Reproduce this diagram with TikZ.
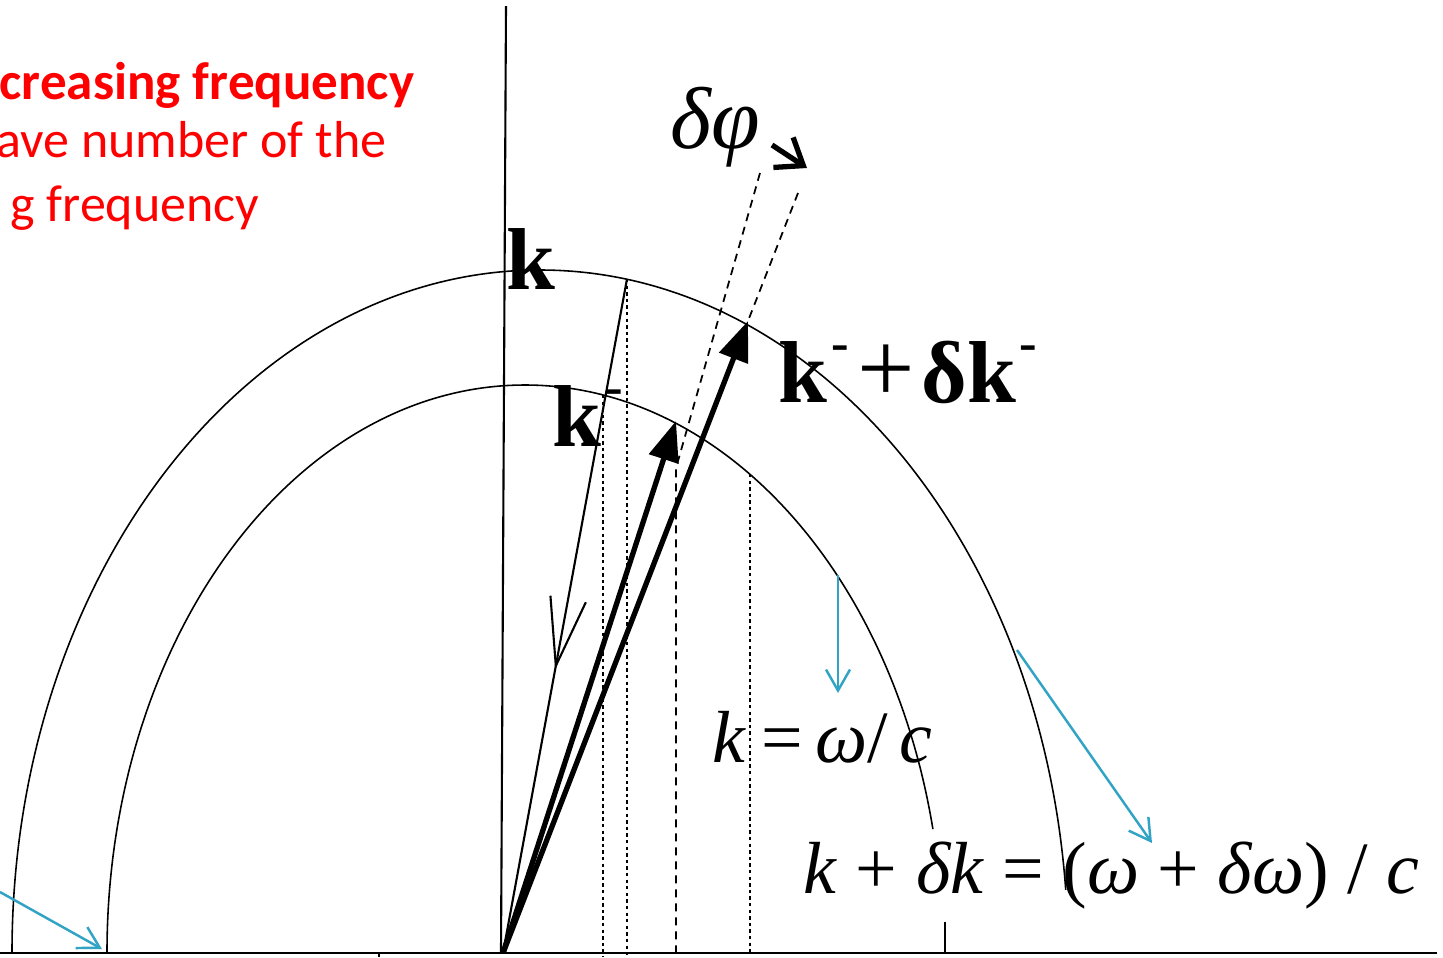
\documentclass[tikz,border=0pt]{standalone}
\usepackage{fontspec}
\setmainfont{Liberation Serif}
\newfontfamily\calibri{Carlito}
\usepackage{tikz}
\usetikzlibrary{arrows.meta,decorations.markings,calc}
\definecolor{skyline}{HTML}{31A3C4}
\definecolor{signal}{HTML}{FF0000}
\newcommand{\kminus}{\textbf{k}\kern0.04em\raisebox{0.47em}{\fontsize{15}{15}\selectfont\textbf{-}}}
\newcommand{\bigplus}{{\fontsize{29}{30}\selectfont +}}

\begin{document}
\begin{tikzpicture}[
    vec/.style={inner sep=0pt, font=\fontsize{25}{30}\selectfont},
    eqn/.style={inner sep=0pt, font=\fontsize{21}{25}\selectfont},
    note/.style={inner sep=0pt, text=signal, font=\calibri\fontsize{14.8}{18}\selectfont},
    guide/.style={line width=0.4pt, dash pattern=on 0.33mm off 0.33mm},
    hint/.style={line width=0.5pt, dash pattern=on 0.8mm off 0.6mm},
    pointer/.style={skyline, line width=0.7pt, -{Straight Barb[length=2.1mm,width=2.4mm]}},
    wave/.style={line width=1.5pt, -{Triangle[length=4mm,width=3mm]}}
]
    \useasboundingbox (-5.03,-0.04) rectangle (9.40,9.53);

    % Axes
    \coordinate (O) at (0,0);
    \draw[line width=0.8pt] (-5.03,0) -- (9.34,0);
    \draw[line width=0.6pt] (0.03,9.47) -- (-0.02,0);
    \draw[line width=0.4pt] (4.42,0) -- (4.42,0.31);
    \draw[line width=0.4pt] (-1.24,0) -- (-1.24,-0.04);

    % Frequency shells
    \draw[line width=0.45pt] (-4.91,0) arc[start angle=180, end angle=5.3, x radius=5.28, y radius=6.83];
    \draw[line width=0.45pt] (-3.96,0) arc[start angle=180, end angle=12.6, x radius=4.18, y radius=5.68];

    % Points on the shells
    \coordinate (kOut) at (1.24,6.74);
    \coordinate (kIn) at (1.00,5.58);
    \coordinate (pIn) at (1.73,5.32);
    \coordinate (pOut) at (2.45,6.32);
    \coordinate (dTop) at (2.57,7.80);
    \coordinate (dBend) at (1.73,4.85);
    \coordinate (eTop) at (2.95,7.60);
    \coordinate (wIn) at (2.47,4.79);

    % Projections
    \draw[guide] (kIn) -- (kIn |- 0,-0.04);
    \draw[guide] (kOut) -- (kOut |- 0,-0.04);
    \draw[guide] (wIn) -- (wIn |- O);
    \draw[hint] (dTop) -- (dBend) -- (dBend |- O);
    \draw[hint] (eTop) -- (pOut);

    % Incident wave vector
    \draw[line width=0.6pt, decoration={markings,
        mark=at position 0.58 with {\arrow{Straight Barb[length=6.8mm,width=3.6mm]}}},
        postaction={decorate}] (kOut) -- (O);

    % Scattered wave vectors
    \draw[wave] (O) -- (pIn);
    \draw[wave] (O) -- (pOut);

    % Labels
    \node[vec, anchor=base west] (kTop) at (0.03,6.64) {\textbf{k}};
    \node[vec, anchor=base west] (kMinus) at (0.49,5.07) {\kminus};
    \node[vec, anchor=base west] (kSum) at (2.75,5.51) {\kminus\kern0.1em\bigplus\kern0.08em\textbf{δ}\kminus};
    \node[vec, anchor=base west] (phiLbl) at (1.67,8.05) {\textit{δφ}};
    \coordinate (phiA) at (2.69,8.08);
    \coordinate (phiB) at (3.04,7.85);
    \draw[line width=1.5pt, -{Straight Barb[length=2.4mm,width=3.6mm]}] (phiA) -- (phiB);

    \node[eqn, anchor=base west] (dispIn) at (2.09,1.91)
        {\textit{k}\kern0.2em=\kern0.17em\textit{ω}/\kern0.15em\textit{c}};
    \node[eqn, anchor=base west] (dispOut) at (3.00,0.60)
        {\textit{k} + \textit{δk} = (\textit{ω} + \textit{δω}) / \textit{c}};

    % Pointers
    \coordinate (bA) at (3.35,3.78);
    \coordinate (bB) at (3.35,2.60);
    \coordinate (bC) at (5.14,3.03);
    \coordinate (bD) at (6.49,1.10);
    \coordinate (bE) at (-5.03,0.61);
    \coordinate (bF) at (-4.01,0.04);
    \draw[pointer] (bA) -- (bB);
    \draw[pointer] (bC) -- (bD);
    \draw[pointer] (bE) -- (bF);

    % Red caption
    \node[note, anchor=base east, font=\calibri\bfseries\fontsize{15.1}{18}\selectfont] (txtA) at (-0.88,8.54) {creasing frequency};
    \node[note, anchor=base east] (txtB) at (-1.16,7.96) {ave number of the};
    \node[note, anchor=base east] (txtC) at (-2.43,7.32) {g frequency};

\end{tikzpicture}
\end{document}
